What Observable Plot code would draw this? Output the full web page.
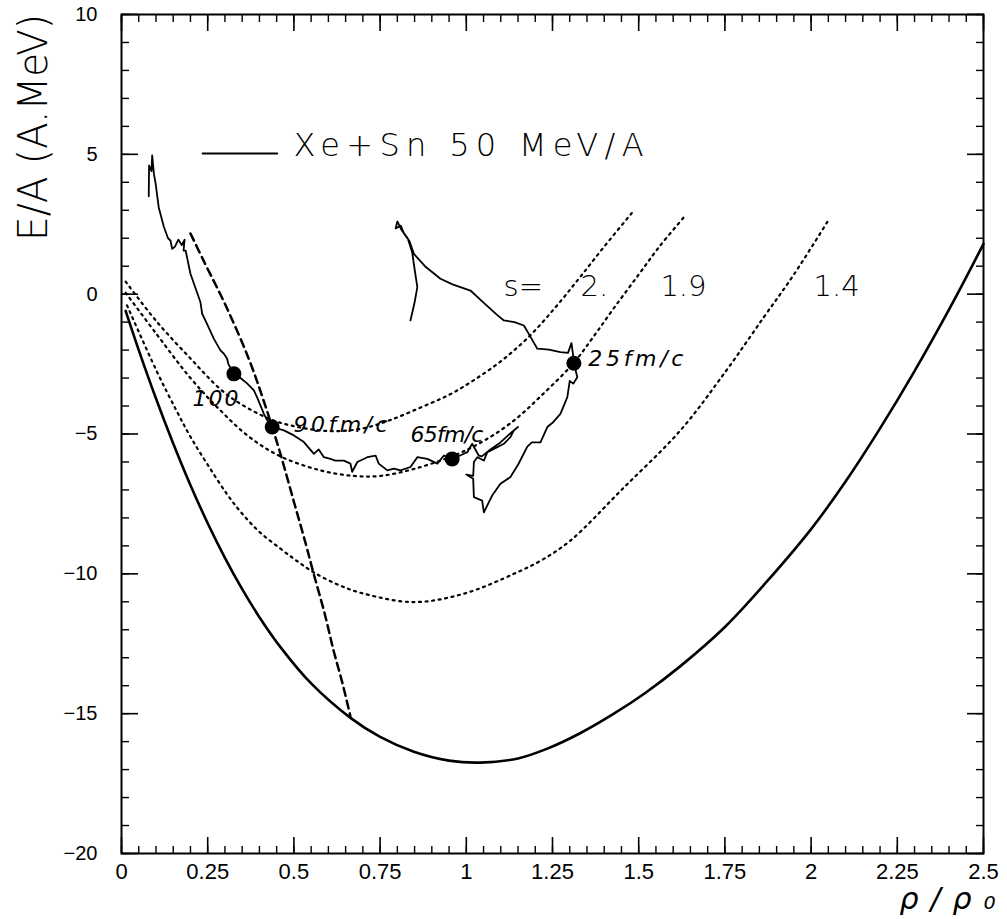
<!DOCTYPE html>
<html><head><meta charset="utf-8">
<script src="https://cdn.jsdelivr.net/npm/d3@7"></script>
<script src="https://cdn.jsdelivr.net/npm/@observablehq/plot@0.6"></script>
<style>body{margin:0;background:#fff} svg{display:block}</style>
</head><body><div id="chart"></div>
<script>
// ---- Data ----
// T=0 equation of state (thick solid curve)
const eosX = [0.012,0.05,0.1,0.15,0.2,0.25,0.3,0.35,0.4,0.461,0.55,0.664,0.75,0.848,0.95,1.041,1.15,1.235,1.33,1.428,1.52,1.621,1.75,1.87,2.0,2.1,2.2,2.3,2.414,2.5];
const eosY = [-0.6,-2.0,-3.73,-5.34,-6.83,-8.19,-9.43,-10.55,-11.55,-12.62,-13.92,-15.15,-15.83,-16.36,-16.68,-16.75,-16.6,-16.25,-15.7,-15.0,-14.25,-13.3,-11.9,-10.3,-8.4,-6.7,-4.8,-2.75,-0.23,1.8];
// isentropes s = 2., 1.9, 1.4 (dotted)
const s20X = [0.012,0.1,0.2,0.287,0.345,0.437,0.5,0.56,0.62,0.7,0.78,0.87,0.95,1.02,1.1,1.18,1.26,1.33,1.4,1.48];
const s20Y = [0.45,-0.95,-2.3,-3.4,-3.92,-4.5,-4.72,-4.85,-4.9,-4.8,-4.5,-4.04,-3.6,-3.09,-2.4,-1.54,-0.45,0.61,1.7,2.9];
const s19X = [0.012,0.1,0.2,0.287,0.37,0.461,0.577,0.674,0.75,0.848,0.964,1.05,1.138,1.22,1.312,1.37,1.428,1.5,1.56,1.631];
const s19Y = [0.05,-1.4,-3.0,-4.16,-5.1,-5.8,-6.3,-6.5,-6.5,-6.25,-5.77,-5.25,-4.52,-3.6,-2.45,-1.5,-0.5,0.7,1.7,2.75];
const s14X = [0.016,0.1,0.161,0.2,0.25,0.306,0.35,0.4,0.461,0.51,0.558,0.63,0.703,0.848,0.993,1.138,1.22,1.302,1.45,1.621,1.75,1.863,1.95,2.051];
const s14Y = [-0.4,-2.7,-4.2,-5.1,-6.1,-7.15,-7.85,-8.5,-9.1,-9.55,-9.95,-10.4,-10.71,-11.01,-10.71,-10.0,-9.5,-8.81,-7.0,-4.87,-2.8,-0.82,0.7,2.66];
// spinodal (dashed)
const spinX = [0.2,0.238,0.305,0.371,0.412,0.458,0.499,0.534,0.557,0.589,0.615,0.641,0.664];
const spinY = [2.17,1.2,-0.48,-2.37,-3.8,-5.59,-7.38,-8.91,-9.98,-11.41,-12.74,-13.92,-15.1];
// Xe+Sn 50 MeV/A trajectory (thin solid)
const trajX = [0.838,0.85,0.858,0.85,0.843,0.83,0.812,0.80,0.795,0.81,0.82,0.835,0.848,0.88,0.925,0.96,1.012,1.05,1.09,1.109,1.14,1.167,1.185,1.206,1.24,1.273,1.295,1.305,1.31,1.312,1.322,1.31,1.3,1.293,1.273,1.25,1.235,1.215,1.19,1.177,1.15,1.128,1.099,1.075,1.051,1.046,1.022,1.02,1.0,1.02,1.022,1.032,1.051,1.061,1.09,1.109,1.128,1.138,1.15,1.13,1.099,1.07,1.045,1.036,1.017,1.003,0.985,0.959,0.935,0.916,0.887,0.858,0.838,0.809,0.79,0.771,0.746,0.737,0.713,0.684,0.669,0.664,0.645,0.62,0.606,0.587,0.572,0.558,0.529,0.5,0.471,0.437,0.42,0.413,0.393,0.384,0.365,0.345,0.326,0.31,0.306,0.297,0.287,0.268,0.248,0.234,0.229,0.2,0.186,0.18,0.183,0.175,0.165,0.155,0.147,0.142,0.135,0.123,0.108,0.099,0.094,0.089,0.087,0.08,0.079];
const trajY = [-0.94,-0.3,0.25,0.9,1.5,2.0,2.3,2.6,2.35,2.45,2.15,1.9,1.44,1.0,0.55,0.35,0.13,-0.3,-0.75,-0.94,-1.0,-1.12,-1.5,-1.95,-1.98,-2.07,-2.1,-1.75,-2.2,-2.47,-2.97,-3.2,-3.1,-3.68,-4.28,-4.6,-4.75,-5.3,-5.3,-5.45,-6.1,-6.54,-6.78,-7.2,-7.8,-7.38,-7.26,-6.6,-6.45,-6.5,-6.0,-5.83,-5.95,-5.65,-5.47,-5.35,-5.11,-4.87,-4.75,-4.95,-5.3,-5.55,-5.8,-5.77,-5.35,-5.65,-5.75,-5.89,-5.77,-6.06,-5.89,-5.83,-6.18,-6.3,-6.24,-6.3,-6.06,-5.77,-5.83,-6.0,-6.35,-6.06,-5.95,-5.95,-5.89,-5.83,-5.55,-5.71,-5.29,-5.05,-4.87,-4.75,-4.45,-4.28,-3.68,-3.44,-3.2,-3.0,-2.85,-2.5,-2.3,-2.13,-2.01,-1.6,-1.06,-0.7,-0.29,0.73,1.56,1.56,1.95,1.75,1.95,1.7,1.62,1.92,2.0,2.4,3.1,3.95,4.3,4.96,4.4,4.6,3.5];
// time marks on trajectory
const markX = [0.326,0.437,0.959,1.312];
const markY = [-2.85,-4.75,-5.89,-2.47];
const markText = ["100","90fm/c","65fm/c","25fm/c"];
const markTextX = [0.206,0.499,0.838,1.354];
const markTextY = [-3.73,-4.69,-5.02,-2.33];
const markTextLen = [46,94,73,95];
// isentrope labels
const sText = ["s=","2.","1.9","1.4"];
const sTextX = [1.108,1.331,1.563,2.007];
const sTextY = [0.275,0.275,0.275,0.275];
// legend
const legendLineX = [0.235,0.452];
const legendLineY = [5.03,5.03];
const legendText = "Xe+Sn 50 MeV/A";
const legendTextX = 0.499, legendTextY = 5.32;
// axes
const xMajor = [0,0.25,0.5,0.75,1,1.25,1.5,1.75,2,2.25,2.5];
const xTickLabels = ["0","0.25","0.5","0.75","1","1.25","1.5","1.75","2","2.25","2.5"];
const yMajor = [-20,-15,-10,-5,0,5,10];
const yTickLabels = ["\u221220","\u221215","\u221210","\u22125","0","5","10"];
const xMinor = d3.range(0, 2.5001, 0.05);
const yMinor = d3.range(-20, 10.001, 1);

// ---- Layout ----
const W = 1007, H = 919, mL = 121, mR = 24, mT = 14, mB = 66;
const zip = (xs, ys) => xs.map((x, i) => ({x, y: ys[i]}));
const dotted = {strokeDasharray: "2,4.6", strokeWidth: 2.2, stroke: "black", curve: "catmull-rom"};
const noText = () => "";
const thin = "DejaVu Sans";

const svg = Plot.plot({
  width: W, height: H,
  marginLeft: mL, marginRight: mR, marginTop: mT, marginBottom: mB,
  style: {fontFamily: "Liberation Sans", fontSize: "21px", background: "white", color: "black"},
  x: {domain: [0, 2.5]},
  y: {domain: [-20, 10]},
  marks: [
    // inward ticks on all four sides
    Plot.axisX({anchor: "bottom", ticks: xMinor, tickSize: -7, tickFormat: noText, label: null, strokeWidth: 1.4}),
    Plot.axisX({anchor: "bottom", ticks: xMajor, tickSize: -16, tickFormat: noText, label: null, strokeWidth: 1.6}),
    Plot.axisX({anchor: "top", ticks: xMinor, tickSize: -7, tickFormat: noText, label: null, strokeWidth: 1.4}),
    Plot.axisX({anchor: "top", ticks: xMajor, tickSize: -16, tickFormat: noText, label: null, strokeWidth: 1.6}),
    Plot.axisY({anchor: "left", ticks: yMinor, tickSize: -8, tickFormat: noText, label: null, strokeWidth: 1.4}),
    Plot.axisY({anchor: "left", ticks: yMajor, tickSize: -17, tickFormat: noText, label: null, strokeWidth: 1.6}),
    Plot.axisY({anchor: "right", ticks: yMinor, tickSize: -8, tickFormat: noText, label: null, strokeWidth: 1.4}),
    Plot.axisY({anchor: "right", ticks: yMajor, tickSize: -17, tickFormat: noText, label: null, strokeWidth: 1.6}),
    Plot.frame({stroke: "black", strokeWidth: 2}),
    // tick labels
    Plot.axisX({anchor: "bottom", ticks: xMajor, tickSize: 0, tickPadding: 10, tickFormat: (d, i) => xTickLabels[i], fontSize: 22, label: null}),
    Plot.axisY({anchor: "left", ticks: yMajor, tickSize: 0, tickPadding: 24, tickFormat: (d, i) => yTickLabels[i], fontSize: 20, label: null}),
    // curves
    Plot.line(zip(eosX, eosY), {x: "x", y: "y", stroke: "black", strokeWidth: 2.6, curve: "catmull-rom"}),
    Plot.line(zip(s20X, s20Y), {x: "x", y: "y", ...dotted}),
    Plot.line(zip(s19X, s19Y), {x: "x", y: "y", ...dotted}),
    Plot.line(zip(s14X, s14Y), {x: "x", y: "y", ...dotted}),
    Plot.line(zip(spinX, spinY), {x: "x", y: "y", stroke: "black", strokeWidth: 2.5, strokeDasharray: "8,5", curve: "catmull-rom"}),
    Plot.line(zip(trajX, trajY), {x: "x", y: "y", stroke: "black", strokeWidth: 1.8, strokeLinejoin: "round"}),
    Plot.dot(zip(markX, markY), {x: "x", y: "y", r: 7.5, fill: "black", stroke: "none"}),
    Plot.text(markText.map((t, i) => ({t, x: markTextX[i], y: markTextY[i]})), {x: "x", y: "y", text: "t", textAnchor: "start", lineAnchor: "middle", fontSize: 22, fontFamily: "DejaVu Sans", fontStyle: "italic", fill: "black"}),
    // s labels
    Plot.text(sText.map((t, i) => ({t, x: sTextX[i], y: sTextY[i]})), {x: "x", y: "y", text: "t", textAnchor: "start", lineAnchor: "middle", fontSize: 29, fontFamily: thin, fontWeight: 200, fill: "black"}),
    // legend
    Plot.line(zip(legendLineX, legendLineY), {x: "x", y: "y", stroke: "black", strokeWidth: 1.8}),
    Plot.text([legendText], {x: legendTextX, y: legendTextY, text: d => d, textAnchor: "start", lineAnchor: "middle", fontSize: 32, fontFamily: thin, fontWeight: 200, fill: "black"}),
    // axis titles
    Plot.text(["E/A (A.MeV)"], {frameAnchor: "top-left", text: d => d, rotate: -90, dx: 34 - mL, dy: 127 - mT, textAnchor: "middle", lineAnchor: "middle", fontSize: 40, fontFamily: thin, fontWeight: 200, fill: "black"}),
    Plot.text(["\u03c1/\u03c1\u2080"], {frameAnchor: "bottom-right", text: d => d, dx: 12, dy: 55, textAnchor: "end", lineAnchor: "bottom", fontSize: 30, fontFamily: "DejaVu Sans", fontStyle: "italic", fill: "black"})
  ]
});

function fit(str, len, adjust) {
  svg.querySelectorAll("text").forEach(t => {
    if (t.textContent === str) { t.setAttribute("textLength", len); t.setAttribute("lengthAdjust", adjust || "spacing"); }
  });
}
fit(legendText, 350);
fit("E/A (A.MeV)", 227, "spacingAndGlyphs");
markText.forEach((t, i) => fit(t, markTextLen[i]));
fit("\u03c1/\u03c1\u2080", 96);
document.getElementById("chart").appendChild(svg);
</script>
</body></html>
